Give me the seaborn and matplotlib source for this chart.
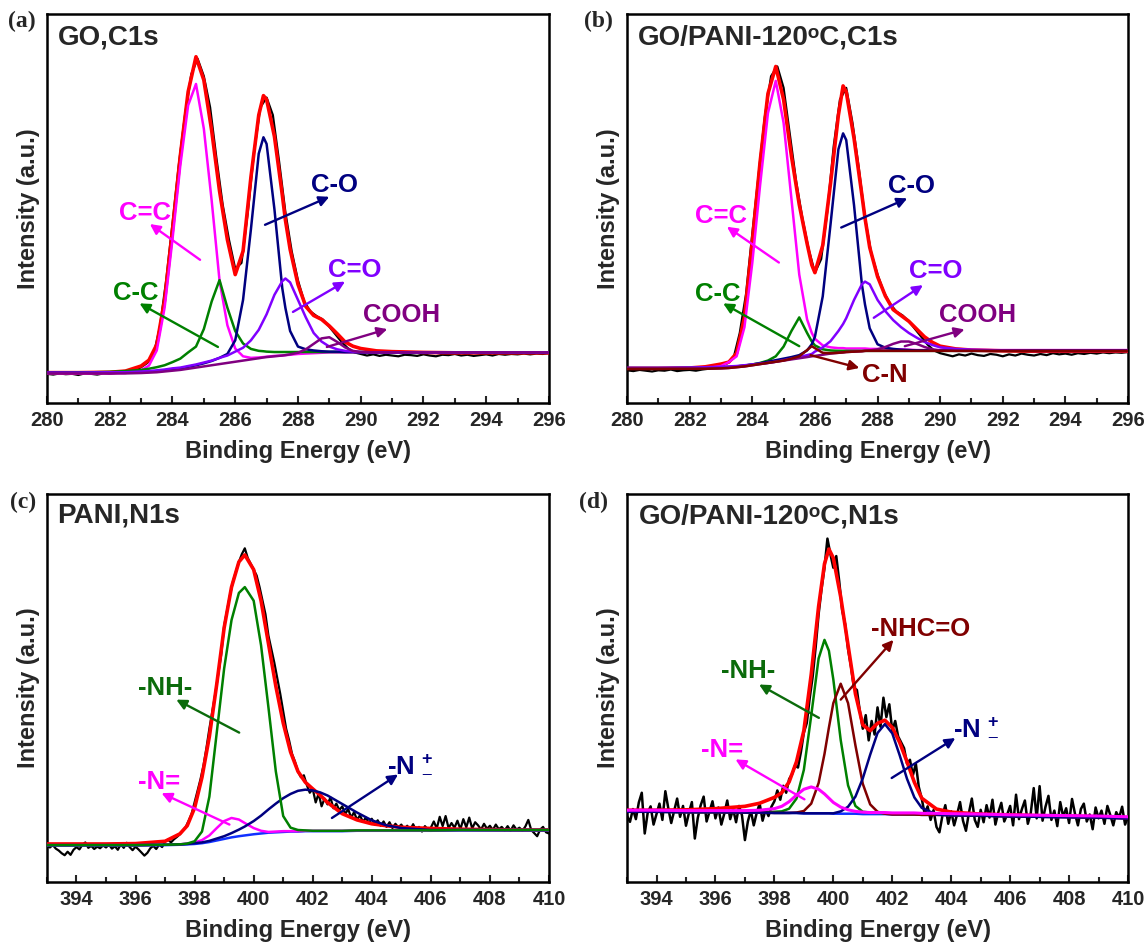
import numpy as np
import matplotlib
matplotlib.use("Agg")
import matplotlib.pyplot as plt
import seaborn as sns

# values, intensity given in % of the axis height

# (a) GO, C1s
XA = [280, 281, 282, 282.5, 283, 283.25, 283.5, 283.75, 284, 284.25, 284.5, 284.75, 285, 285.25,
      285.5, 285.75, 286, 286.25, 286.5, 286.75, 286.9, 287, 287.25, 287.5, 287.6, 287.75, 288,
      288.25, 288.5, 288.75, 289, 289.25, 289.5, 289.75, 290, 290.5, 291, 292, 293, 294, 295, 296]
A_FIT = [7.8, 7.8, 7.9, 8.2, 9.5, 11.0, 15.0, 26.5, 44.5, 63.5, 80.0, 89.0, 83.0, 70.0, 54.5, 42.0,
         33.0, 39.0, 58.0, 74.0, 79.0, 78.0, 68.5, 53.5, 47.0, 39.5, 30.5, 24.8, 22.5, 21.5, 19.8,
         17.8, 15.7, 14.6, 14.0, 13.4, 13.2, 13.0, 12.9, 12.9, 12.9, 12.9]
A_CC2 = [7.6, 7.6, 7.6, 7.7, 8.4, 9.6, 13.5, 24.5, 42.0, 61.0, 76.5, 82.0, 70.5, 52.0, 31.5, 20.0,
         14.0, 12.0, 11.6, 11.7, 11.8, 11.9, 12.1, 12.2, 12.3, 12.4, 12.6, 12.7, 12.8, 12.9, 13.0,
         13.0, 13.0, 13.0, 13.0, 13.0, 13.0, 13.0, 13.0, 13.0, 13.0, 13.0]
A_CC1 = [7.7, 7.8, 8.0, 8.2, 8.5, 8.8, 9.2, 9.7, 10.5, 11.4, 13.0, 14.5, 19.0, 26.1, 31.6, 24.5,
         18.5, 15.3, 13.9, 13.4, 13.3, 13.2, 13.1, 13.1, 13.1, 13.1, 13.1, 13.1, 13.1, 13.1, 13.1,
         13.1, 13.1, 13.1, 13.1, 13.0, 13.0, 13.0, 13.0, 13.0, 13.0, 13.0]
A_CO = [7.8, 7.8, 7.8, 7.8, 7.9, 8.0, 8.2, 8.4, 8.7, 8.9, 9.3, 9.7, 10.2, 10.8, 11.6, 12.6, 16.1,
        26.5, 44.6, 64.1, 68.3, 66.6, 49.8, 29.5, 24.4, 18.5, 14.5, 13.8, 13.5, 13.3, 13.2, 13.2,
        13.1, 13.1, 13.0, 13.0, 13.0, 13.0, 13.0, 13.0, 13.0, 13.0]
A_CEQO = [7.8, 7.8, 7.9, 7.9, 8.1, 8.2, 8.4, 8.6, 8.9, 9.1, 9.5, 9.9, 10.4, 10.9, 11.6, 12.2, 13.2,
          14.2, 16.1, 18.8, 21.2, 22.8, 27.8, 31.3, 32.0, 31.0, 26.5, 22.0, 18.0, 15.8, 14.5, 13.8,
          13.4, 13.2, 13.1, 13.0, 13.0, 13.0, 13.0, 13.0, 13.0, 13.0]
A_COOH = [7.6, 7.6, 7.6, 7.6, 7.7, 7.8, 7.9, 8.1, 8.3, 8.5, 8.8, 9.1, 9.4, 9.7, 10.0, 10.3, 10.6,
          10.9, 11.2, 11.5, 11.7, 11.8, 12.0, 12.2, 12.3, 12.5, 12.9, 13.8, 15.2, 16.6, 16.9, 15.7,
          14.3, 13.4, 13.1, 13.0, 13.0, 13.0, 13.0, 13.0, 13.0, 13.0]
# measured spectrum, one point every 0.2 eV from 280 eV
A_RAW = [7.5, 7.3, 7.6, 7.4, 7.5, 7.2, 7.6, 7.5, 7.3, 7.6, 7.5, 7.7, 7.8, 8.0, 8.4, 9.2,
         10.3, 12.5, 19.5, 31.5, 46.0, 61.0, 74.0, 84.5, 88.5, 84.0, 76.0, 63.0, 51.0, 42.0, 34.5,
         36.0, 49.0, 64.5, 76.0, 78.5, 74.0, 62.0, 49.0, 39.0, 31.5, 26.0, 23.5, 22.3, 21.4, 19.6,
         17.6, 15.6, 14.0, 13.0, 12.6,
         12.2, 12.5, 12.1, 12.4, 12.2, 12.0, 12.4, 12.3, 12.1, 12.5, 12.2, 12.0, 12.4, 12.3, 12.6,
         12.2, 12.4, 12.1, 12.3, 12.5, 12.2, 12.6, 12.4, 12.6, 12.5, 12.7, 12.5, 12.7, 12.6, 12.8]

# (b) GO/PANI-120 C, C1s
XB = [280, 281, 282, 282.5, 283, 283.25, 283.5, 283.75, 284, 284.25, 284.5, 284.75, 285, 285.25,
      285.5, 285.75, 285.9, 286, 286.25, 286.5, 286.75, 286.9, 287, 287.25, 287.5, 287.6, 287.75,
      288, 288.25, 288.5, 288.75, 289, 289.25, 289.5, 289.75, 290, 290.5, 291, 292, 293, 294, 295, 296]
B_FIT = [8.9, 8.9, 9.0, 9.3, 10.0, 10.5, 12.8, 22.0, 41.5, 62.0, 79.5, 86.5, 78.0, 63.5, 51.0, 41.0,
         35.5, 33.5, 40.5, 56.5, 74.0, 81.5, 80.0, 68.0, 53.5, 47.5, 40.0, 32.5, 27.5, 24.0, 22.5,
         21.0, 19.0, 17.0, 15.6, 14.6, 13.9, 13.6, 13.4, 13.3, 13.3, 13.3, 13.3]
B_CC2 = [8.8, 8.8, 8.8, 8.9, 9.5, 10.5, 12.0, 19.5, 36.0, 56.0, 74.5, 82.8, 72.0, 52.5, 33.0, 21.5,
         18.0, 16.5, 14.8, 14.3, 14.1, 14.1, 14.0, 14.0, 14.0, 14.0, 13.9, 13.9, 13.8, 13.8, 13.8,
         13.7, 13.6, 13.6, 13.6, 13.6, 13.6, 13.6, 13.6, 13.6, 13.6, 13.6, 13.6]
B_CC1 = [8.9, 8.9, 9.0, 9.1, 9.2, 9.3, 9.4, 9.6, 9.9, 10.3, 10.9, 12.0, 14.5, 18.5, 22.0, 18.0,
         15.8, 14.8, 13.8, 13.5, 13.4, 13.4, 13.4, 13.4, 13.4, 13.4, 13.4, 13.4, 13.4, 13.4, 13.4,
         13.4, 13.4, 13.4, 13.4, 13.4, 13.4, 13.4, 13.4, 13.4, 13.4, 13.4, 13.4]
B_CO = [9.0, 9.0, 9.0, 9.0, 9.1, 9.2, 9.4, 9.6, 9.9, 10.2, 10.6, 11.0, 11.4, 11.8, 12.3, 13.5,
        15.1, 17.0, 27.4, 46.0, 65.2, 69.3, 67.6, 50.8, 30.5, 25.3, 19.2, 15.1, 14.2, 13.9, 13.7,
        13.6, 13.5, 13.5, 13.5, 13.5, 13.5, 13.5, 13.5, 13.5, 13.5, 13.5, 13.5]
B_CEQO = [9.0, 9.0, 9.1, 9.2, 9.3, 9.4, 9.5, 9.7, 9.9, 10.1, 10.3, 10.6, 11.0, 11.4, 11.8, 12.3,
          12.6, 13.2, 14.3, 15.9, 18.5, 20.3, 21.8, 26.5, 30.5, 31.2, 30.5, 26.5, 23.6, 21.3, 19.5,
          18.0, 16.8, 15.7, 14.9, 14.3, 13.9, 13.7, 13.5, 13.4, 13.4, 13.4, 13.4]
B_COOH = [8.8, 8.8, 8.8, 8.8, 8.9, 9.0, 9.2, 9.4, 9.7, 10.0, 10.3, 10.6, 10.9, 11.2, 11.5, 11.8,
          12.0, 12.1, 12.4, 12.7, 12.9, 13.0, 13.1, 13.2, 13.3, 13.4, 13.5, 13.8, 14.4, 15.2, 15.8,
          15.8, 15.2, 14.4, 13.8, 13.5, 13.4, 13.4, 13.4, 13.4, 13.4, 13.4, 13.4]
B_CN = [8.8, 8.8, 8.8, 8.8, 8.9, 9.0, 9.2, 9.4, 9.7, 10.0, 10.3, 10.6, 10.9, 11.4, 12.0, 13.6,
        14.6, 14.1, 12.9, 12.8, 12.9, 13.0, 13.1, 13.2, 13.3, 13.4, 13.4, 13.4, 13.4, 13.4, 13.4,
        13.4, 13.4, 13.4, 13.4, 13.4, 13.4, 13.4, 13.4, 13.4, 13.4, 13.4, 13.4]
B_RAW = [8.4, 8.2, 8.5, 8.3, 8.1, 8.4, 8.3, 8.6, 8.2, 8.4, 8.5, 8.3, 8.6, 8.8, 9.2, 9.6,
         10.2, 11.5, 18.0, 28.0, 43.5, 58.5, 73.5, 84.0, 86.5, 81.0, 69.0, 57.0, 47.5, 39.5, 33.5,
         37.0, 49.5, 66.0, 78.0, 81.0, 72.0, 60.5, 47.5, 38.5, 33.0, 28.5, 25.5, 23.5, 22.5, 21.0,
         19.0, 17.0, 15.0, 13.5, 12.8,
         12.4, 12.0, 12.5, 12.2, 12.7, 12.3, 12.1, 12.6, 12.4, 12.0, 12.5, 12.2, 12.7, 12.4, 12.2,
         12.6, 12.3, 12.8, 12.5, 12.7, 12.4, 12.8, 12.6, 12.9, 12.7, 13.0, 12.8, 13.0, 12.9, 13.1]

# (c) PANI, N1s
XC = [393, 394, 395, 396, 397, 397.5, 397.75, 398, 398.25, 398.5, 398.75, 399, 399.25, 399.5,
      399.7, 400, 400.25, 400.5, 400.75, 401, 401.25, 401.5, 401.75, 402, 402.25, 402.5, 403,
      403.5, 404, 404.5, 405, 406, 407, 408, 409, 410]
C_FIT = [9.8, 9.8, 9.8, 9.9, 10.5, 12.4, 14.5, 19.1, 27.0, 37.5, 51.0, 65.5, 76.0, 82.5, 84.3,
         80.5, 72.5, 61.5, 50.5, 41.0, 33.5, 28.5, 25.7, 24.0, 22.4, 20.5, 17.6, 16.0, 15.0, 14.5,
         14.1, 13.8, 13.6, 13.5, 13.4, 13.4]
C_NH = [9.5, 9.5, 9.5, 9.5, 9.6, 9.7, 9.9, 10.5, 13.0, 22.0, 38.5, 55.0, 67.5, 74.5, 76.0, 72.5,
        61.0, 45.0, 28.5, 17.0, 14.0, 13.4, 13.3, 13.2, 13.2, 13.2, 13.2, 13.3, 13.3, 13.3, 13.3,
        13.3, 13.4, 13.4, 13.4, 13.4]
C_NEQ = [9.5, 9.5, 9.5, 9.5, 9.6, 9.7, 9.9, 10.2, 10.8, 12.0, 13.9, 15.7, 16.5, 16.1, 15.2, 13.9,
         13.2, 12.9, 13.0, 13.1, 13.1, 13.1, 13.2, 13.2, 13.2, 13.2, 13.2, 13.3, 13.3, 13.3, 13.3,
         13.3, 13.4, 13.4, 13.4, 13.4]
C_NPLUS = [9.5, 9.5, 9.5, 9.5, 9.6, 9.7, 9.8, 10.0, 10.2, 10.6, 11.2, 11.8, 12.6, 13.5, 14.3,
           15.7, 17.1, 18.7, 20.2, 21.6, 22.7, 23.5, 23.8, 23.6, 23.1, 22.3, 20.1, 17.9, 15.9,
           14.6, 13.9, 13.4, 13.4, 13.4, 13.4, 13.4]
C_BASE = [9.4, 9.4, 9.4, 9.4, 9.5, 9.6, 9.7, 9.8, 10.0, 10.3, 10.7, 11.1, 11.5, 11.8, 12.0, 12.3,
          12.5, 12.7, 12.8, 12.9, 13.0, 13.0, 13.1, 13.1, 13.1, 13.1, 13.1, 13.2, 13.2, 13.2, 13.2,
          13.2, 13.3, 13.3, 13.3, 13.3]
# measured spectrum, one point every 0.1 eV from 393 eV
C_RAW = [9.2, 8.9, 9.5, 8.6, 8.1, 7.4, 6.9, 7.8, 7.0, 8.3,
         9.0, 8.4, 9.6, 10.2, 8.8, 9.3, 8.5, 9.1, 8.7, 9.4,
         8.9, 9.6, 8.6, 9.2, 8.3, 9.7, 8.8, 10.1, 9.0, 8.2,
         9.1, 8.4, 7.6, 6.8, 7.5, 8.7, 9.3, 8.5, 9.6, 9.0,
         10.4, 10.9, 10.2, 11.0, 11.6, 12.3, 13.2, 14.2, 15.8, 17.6,
         20.5, 23.5, 26.5, 30.0, 34.5, 39.5, 44.0, 48.5, 53.5, 58.5,
         66.0, 70.0, 74.0, 77.5, 80.0, 82.5, 84.5, 86.0, 83.5, 82.0,
         80.5, 79.0, 76.0, 72.5, 69.0, 63.5, 60.0, 56.5, 52.5, 48.5,
         44.0, 39.5, 36.5, 33.0, 31.0, 28.5, 27.0, 27.5, 25.0, 23.0,
         24.0, 20.5, 22.8, 19.5, 21.5, 20.0, 21.8, 19.0, 20.2, 18.5,
         19.5, 17.5, 18.8, 16.6, 18.0, 16.0, 17.2, 15.5, 16.6, 15.2,
         16.3, 14.8, 15.9, 14.5, 15.6, 14.2, 15.4, 13.9, 15.0, 14.1,
         14.8, 13.6, 14.5, 13.4, 14.9, 13.3, 14.2, 13.0, 14.4, 13.5,
         14.0, 15.6, 13.8, 16.8, 14.4, 17.0, 13.9, 15.2, 14.0, 15.8,
         13.6, 16.2, 14.1, 16.6, 13.8, 15.4, 14.6, 13.5, 15.0, 13.7,
         14.5, 13.4, 14.8, 13.6, 14.2, 13.3, 14.4, 13.2, 14.6, 13.5,
         14.0, 13.2, 14.3, 16.0, 13.4, 12.6, 11.8, 13.5, 14.2, 12.8,
         12.5]

# (d) GO/PANI-120 C, N1s
XD = [393, 394, 395, 396, 397, 397.5, 398, 398.25, 398.5, 398.75, 399, 399.25, 399.5, 399.7,
      399.85, 400, 400.25, 400.5, 400.75, 401, 401.25, 401.5, 401.75, 402, 402.25, 402.5, 402.75,
      403, 403.5, 404, 405, 406, 407, 408, 409, 410]
D_FIT = [18.5, 18.5, 18.6, 18.9, 19.5, 20.3, 21.8, 23.0, 25.8, 31.0, 39.0, 53.5, 71.0, 82.0, 85.8,
         83.5, 73.5, 61.0, 48.5, 40.5, 39.0, 40.9, 41.7, 39.8, 36.0, 31.0, 25.7, 21.6, 18.8, 18.0,
         17.5, 17.3, 17.1, 17.0, 16.8, 16.6]
D_NH = [18.1, 18.1, 18.0, 18.0, 17.9, 18.0, 18.1, 18.2, 18.9, 21.5, 28.9, 42.9, 57.6, 62.4, 59.6,
        52.2, 36.6, 24.9, 19.6, 18.1, 17.9, 17.8, 17.7, 17.6, 17.6, 17.5, 17.5, 17.4, 17.4, 17.3,
        17.2, 17.0, 16.9, 16.8, 16.7, 16.5]
D_NHCO = [18.1, 18.1, 18.0, 18.0, 17.9, 17.9, 17.8, 17.8, 17.8, 17.9, 18.3, 20.2, 25.5, 33.0, 39.8,
          46.1, 51.1, 46.1, 35.2, 25.3, 20.0, 18.1, 17.6, 17.4, 17.4, 17.4, 17.4, 17.3, 17.3, 17.2,
          17.1, 16.9, 16.8, 16.7, 16.6, 16.4]
D_NPLUS = [18.1, 18.1, 18.0, 18.0, 17.9, 17.9, 17.8, 17.8, 17.8, 17.8, 17.7, 17.7, 17.7, 17.7,
           17.7, 17.7, 18.2, 19.4, 22.0, 26.7, 32.8, 38.4, 40.7, 38.3, 32.7, 26.6, 21.8, 19.1, 17.4,
           17.2, 17.1, 16.9, 16.8, 16.7, 16.6, 16.4]
D_NEQ = [18.5, 18.5, 18.4, 18.4, 18.4, 18.5, 18.9, 19.5, 20.7, 22.4, 23.9, 24.5, 23.9, 22.7, 21.6,
         20.5, 19.3, 18.6, 18.2, 18.0, 17.9, 17.9, 17.9, 17.8, 17.8, 17.8, 17.8, 17.7, 17.7, 17.6,
         17.5, 17.3, 17.2, 17.1, 17.0, 16.8]
D_BASE = [18.1, 18.1, 18.0, 18.0, 17.9, 17.9, 17.8, 17.8, 17.8, 17.8, 17.7, 17.7, 17.7, 17.7, 17.7,
          17.6, 17.6, 17.6, 17.6, 17.5, 17.5, 17.5, 17.5, 17.4, 17.4, 17.4, 17.4, 17.3, 17.3, 17.2,
          17.1, 16.9, 16.8, 16.7, 16.6, 16.4]
D_RAW = [17.0, 15.5, 18.8, 16.2, 20.5, 23.0, 12.5, 17.8, 19.5, 14.8,
         17.5, 20.2, 16.0, 23.4, 19.0, 15.2, 18.4, 21.5, 16.8, 19.6,
         14.5, 17.8, 20.6, 11.2, 16.5, 19.8, 22.0, 15.6, 18.2, 20.8,
         16.4, 19.2, 14.8, 17.6, 21.0, 16.2, 18.8, 15.4, 19.6, 17.2,
         10.8, 15.6, 18.4, 14.6, 17.8, 20.2, 15.8, 18.6, 17.0, 19.4,
         20.8, 23.6, 21.2, 24.8, 23.0, 26.5, 27.8, 30.0, 29.5, 33.5,
         38.5, 41.0, 47.5, 53.0, 60.5, 69.0, 75.5, 81.0, 88.5, 84.5,
         81.0, 84.0, 77.5, 70.0, 66.5, 60.0, 55.5, 50.0, 49.5, 44.0,
         39.5, 43.0, 36.5, 41.5, 38.0, 45.0, 40.0, 47.5, 42.5, 45.8,
         39.0, 41.5, 37.5, 36.0, 34.5, 30.5, 31.5, 27.5, 30.5, 24.5,
         21.5, 17.5, 19.5, 16.0, 18.5, 14.2, 12.8, 17.0, 19.8, 15.0,
         18.2, 14.6, 17.4, 20.6, 15.8, 13.2, 17.8, 21.5, 16.0, 14.2,
         18.6, 15.4, 19.8, 16.6, 21.2, 14.8, 18.0, 20.4, 15.6, 17.4,
         19.6, 14.6, 22.5, 16.2, 18.8, 21.0, 15.0, 17.8, 24.2, 16.4,
         24.7, 15.8, 19.4, 22.2, 16.0, 18.4, 14.4, 20.6, 16.8, 19.0,
         15.2, 21.4, 17.6, 14.6, 18.8, 20.2, 15.6, 17.4, 13.6, 19.2,
         16.4, 18.4, 15.0, 19.6, 17.2, 14.6, 18.0, 16.6, 19.4, 14.8,
         16.8]

# energy grid of the measured spectra
XA_RAW = np.round(np.arange(280, 296.001, 0.2), 1)
XC_RAW = np.round(np.arange(393, 410.001, 0.1), 1)

RED = "#ff0000"
PINK = "#ff00ff"
GREEN = "#008000"
DKGREEN = "#0b6b0b"
NAVY = "#000080"
VIOLET = "#8000ff"
PURPLE = "#800080"
BROWN = "#800000"
BLUE = "#1030ff"

sns.set_style("ticks")
plt.rcParams["font.family"] = ["Liberation Sans", "DejaVu Sans"]
plt.rcParams["font.weight"] = "bold"
plt.rcParams["mathtext.fontset"] = "custom"
plt.rcParams["mathtext.rm"] = "Liberation Sans:bold"
plt.rcParams["mathtext.bf"] = "Liberation Sans:bold"
plt.rcParams["mathtext.default"] = "bf"

fig = plt.figure(figsize=(11.48, 9.42), dpi=100)
ax_a = fig.add_axes([0.0409, 0.5722, 0.4373, 0.4130])
ax_b = fig.add_axes([0.5462, 0.5722, 0.4364, 0.4130])
ax_c = fig.add_axes([0.0409, 0.0637, 0.4373, 0.4119])
ax_d = fig.add_axes([0.5462, 0.0637, 0.4364, 0.4119])


def curve(ax, x, y, color, lw=1.8, z=2):
    sns.lineplot(x=np.asarray(x, float), y=np.asarray(y, float), ax=ax, color=color,
                 linewidth=lw, sort=False, estimator=None, legend=False, zorder=z)


def frame(ax, lo, hi):
    ax.set_xlim(lo, hi)
    ax.set_ylim(0, 100)
    ax.set_xticks(np.arange(lo + (lo % 2), hi + 1, 2))
    ax.set_xticks(np.arange(lo + 1 - (lo % 2), hi, 2), minor=True)
    ax.set_yticks([])
    ax.tick_params(axis="x", which="both", direction="in", width=1.5, labelsize=14.5, pad=6)
    ax.tick_params(axis="x", which="major", length=5)
    ax.tick_params(axis="x", which="minor", length=3.5)
    for s in ax.spines.values():
        s.set_linewidth(1.8)
        s.set_color("black")
    ax.set_xlabel("Binding Energy (eV)", fontsize=17, fontweight="bold", labelpad=7)
    ax.set_ylabel("Intensity (a.u.)", fontsize=17, fontweight="bold", labelpad=5)


def tag(ax, text, xy, tail, tip, color):
    ax.annotate("", xy=tip, xytext=tail,
                arrowprops=dict(arrowstyle="-|>", color=color, lw=1.7, mutation_scale=15,
                                shrinkA=0, shrinkB=0), zorder=6)
    ax.text(xy[0], xy[1], text, color=color, fontsize=18.5, fontweight="bold",
            ha="center", va="center", zorder=7)


def title(ax, text, fx, fy):
    ax.text(fx, fy, text, transform=ax.transAxes, fontsize=20, fontweight="bold",
            ha="left", va="center")


# (a)
curve(ax_a, XA_RAW, A_RAW, "black", 1.6, 2)
curve(ax_a, XA, A_FIT, RED, 2.6, 3)
curve(ax_a, XA, A_CC2, PINK, 1.8, 4)
curve(ax_a, XA, A_CC1, GREEN, 1.8, 4)
curve(ax_a, XA, A_CO, NAVY, 1.8, 4)
curve(ax_a, XA, A_CEQO, VIOLET, 1.8, 4)
curve(ax_a, XA, A_COOH, PURPLE, 1.8, 4)
frame(ax_a, 280, 296)
title(ax_a, "GO,C1s", 0.022, 0.94)
tag(ax_a, "C=C", (283.12, 48.8), (284.88, 36.8), (283.28, 46.0), PINK)
tag(ax_a, "C-C", (282.84, 28.3), (285.45, 14.4), (282.95, 25.6), GREEN)
tag(ax_a, "C-O", (289.18, 56.0), (286.95, 45.8), (289.0, 53.0), NAVY)
tag(ax_a, "C=O", (289.82, 34.2), (287.84, 23.4), (289.5, 31.2), VIOLET)
tag(ax_a, "COOH", (291.31, 22.6), (288.92, 14.4), (290.85, 19.0), PURPLE)

# (b)
curve(ax_b, XA_RAW, B_RAW, "black", 1.6, 2)
curve(ax_b, XB, B_FIT, RED, 2.6, 3)
curve(ax_b, XB, B_CC2, PINK, 1.8, 4)
curve(ax_b, XB, B_CC1, GREEN, 1.8, 4)
curve(ax_b, XB, B_CO, NAVY, 1.8, 4)
curve(ax_b, XB, B_CEQO, VIOLET, 1.8, 4)
curve(ax_b, XB, B_COOH, PURPLE, 1.8, 4)
curve(ax_b, XB, B_CN, BROWN, 1.8, 4)
frame(ax_b, 280, 296)
title(ax_b, "GO/PANI-120\u1d52C,C1s", 0.022, 0.94)
tag(ax_b, "C=C", (283.0, 48.1), (284.85, 36.1), (283.19, 45.3), PINK)
tag(ax_b, "C-C", (282.9, 27.9), (285.5, 14.6), (283.07, 25.6), GREEN)
tag(ax_b, "C-O", (289.1, 55.8), (286.84, 45.1), (288.95, 52.6), NAVY)
tag(ax_b, "C=O", (289.86, 33.9), (287.88, 21.9), (289.45, 30.3), VIOLET)
tag(ax_b, "COOH", (291.19, 22.7), (288.87, 14.6), (290.78, 18.9), PURPLE)
tag(ax_b, "C-N", (288.23, 7.3), (285.86, 12.3), (287.42, 9.0), BROWN)

# (c)
curve(ax_c, XC_RAW, C_RAW, "black", 1.6, 2)
curve(ax_c, XC, C_FIT, RED, 2.6, 3)
curve(ax_c, XC, C_BASE, BLUE, 1.8, 4)
curve(ax_c, XC, C_NEQ, PINK, 1.8, 4)
curve(ax_c, XC, C_NPLUS, NAVY, 1.8, 4)
curve(ax_c, XC, C_NH, GREEN, 1.8, 5)
frame(ax_c, 393, 410)
title(ax_c, "PANI,N1s", 0.02, 0.944)
tag(ax_c, "-NH-", (397.0, 50.1), (399.51, 38.5), (397.38, 47.0), DKGREEN)
tag(ax_c, "-N=", (396.78, 25.9), (399.18, 14.8), (396.88, 22.9), PINK)
tag(ax_c, "-N $^{+}_{-}$", (405.3, 30.7), (402.65, 16.5), (404.89, 27.7), NAVY)

# (d)
curve(ax_d, XC_RAW, D_RAW, "black", 1.8, 2)
curve(ax_d, XD, D_FIT, RED, 2.6, 3)
curve(ax_d, XD, D_BASE, BLUE, 1.8, 4)
curve(ax_d, XD, D_NH, GREEN, 1.8, 4)
curve(ax_d, XD, D_NHCO, BROWN, 1.8, 4)
curve(ax_d, XD, D_NPLUS, NAVY, 1.8, 4)
curve(ax_d, XD, D_NEQ, PINK, 2.2, 5)
frame(ax_d, 393, 410)
title(ax_d, "GO/PANI-120\u1d52C,N1s", 0.024, 0.942)
tag(ax_d, "-NHC=O", (402.97, 65.2), (400.25, 47.0), (402.04, 62.4), BROWN)
tag(ax_d, "-NH-", (397.1, 54.3), (399.51, 42.3), (397.48, 50.9), DKGREEN)
tag(ax_d, "-N=", (396.24, 34.1), (399.02, 21.3), (396.68, 31.6), PINK)
tag(ax_d, "-N $^{+}_{-}$", (404.85, 40.1), (401.98, 26.8), (404.14, 37.1), NAVY)

for lab, (fx, fy) in zip(["(a)", "(b)", "(c)", "(d)"],
                         [(0.019, 0.977), (0.521, 0.977), (0.02, 0.467), (0.517, 0.467)]):
    fig.text(fx, fy, lab, fontsize=17, fontweight="bold", family="Liberation Serif",
             ha="center", va="center")

fig.savefig("out.png", dpi=100)
